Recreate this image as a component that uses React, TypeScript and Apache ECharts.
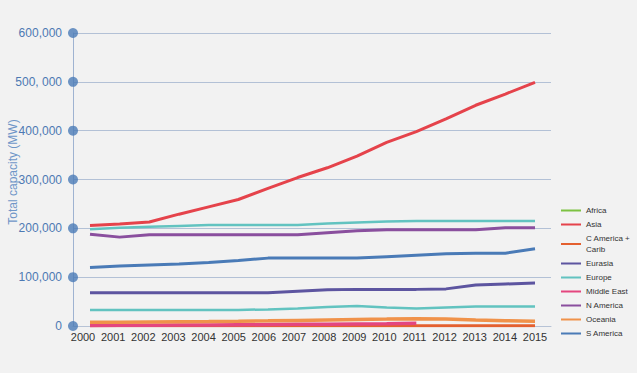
import React, { useEffect, useRef } from "react";
import * as echarts from "echarts";

const years = [2000, 2001, 2002, 2003, 2004, 2005, 2006, 2007, 2008, 2009, 2010, 2011, 2012, 2013, 2014, 2015];
const yTicks = [0, 100000, 200000, 300000, 400000, 500000, 600000];
const yTickLabels = ["0", "100,000", "200,000", "300,000", "400,000", "500, 000", "600,000"];

const africa = [33000, 33000, 33000, 33000, 33000, 33000, 34000, 36000, 39000, 41000, 38000, 36000, 38000, 40000, 40000, 40000];
const asia = [206000, 209000, 213000, 229000, 244000, 259000, 282000, 304000, 324000, 348000, 376000, 398000, 424000, 452000, 475000, 499000];
const cAmerica = [500, 500, 500, 500, 500, 500, 500, 500, 500, 500, 500, 500, 500, 500, 500, 500];
const eurasia = [68000, 68000, 68000, 68000, 68000, 68000, 68000, 71000, 74000, 75000, 75000, 75000, 76000, 84000, 86000, 88000];
const europe = [198000, 201000, 203000, 205000, 207000, 207000, 207000, 207000, 210000, 212000, 214000, 215000, 215000, 215000, 215000, 215000];
const middleEast = [1000, 1300, 1600, 1900, 2200, 2600, 3000, 3400, 3800, 4300, 4800, 5600, null, null, null, null];
const nAmerica = [188000, 182000, 187000, 187000, 187000, 187000, 187000, 187000, 191000, 195000, 197000, 197000, 197000, 197000, 201000, 201000];
const oceania = [7500, 7800, 8200, 8600, 9000, 9600, 10500, 11500, 12500, 13500, 14200, 15000, 14500, 12500, 11000, 9600];
const sAmerica = [120000, 123000, 125000, 127000, 130000, 134000, 139000, 139000, 139000, 139000, 142000, 145000, 148000, 149000, 149000, 158000];

const seriesDefs = [
  { name: "Africa", data: africa, color: "#62c3c0", legendColor: "#7dc242", width: 2.5 },
  { name: "Asia", data: asia, color: "#e5434b", legendColor: "#e5434b", width: 3 },
  { name: "C America + Carib", data: cAmerica, color: "#e4602f", legendColor: "#e4602f", width: 3 },
  { name: "Eurasia", data: eurasia, color: "#5d55a0", legendColor: "#5d55a0", width: 3 },
  { name: "Europe", data: europe, color: "#62c3c0", legendColor: "#62c3c0", width: 2.5 },
  { name: "Middle East", data: middleEast, color: "#e4467f", legendColor: "#e4467f", width: 3.5 },
  { name: "N America", data: nAmerica, color: "#8a4f9e", legendColor: "#8a4f9e", width: 3 },
  { name: "Oceania", data: oceania, color: "#f0924a", legendColor: "#f0924a", width: 3.5 },
  { name: "S America", data: sAmerica, color: "#4a7bb7", legendColor: "#4a7bb7", width: 3 },
];

const FONT = "'Liberation Sans', Arial, sans-serif";
const X_MIN = 1999.427;
const X_MAX = 2015.539;

export default function App() {
  const ref = useRef<HTMLDivElement>(null);
  useEffect(() => {
    if (!ref.current) return;
    const chart = echarts.init(ref.current, undefined, { renderer: "svg" });
    const lineSeries = seriesDefs.map((s) => ({
      type: "line",
      name: s.name,
      xAxisIndex: 0,
      symbol: "none",
      showSymbol: false,
      connectNulls: false,
      color: s.color,
      lineStyle: { width: s.width, color: s.color },
      data: years.map((y, i) => [y, s.data[i]]),
    }));
    chart.setOption({
      animation: false,
      backgroundColor: "#f2f2f2",
      textStyle: { fontFamily: FONT },
      grid: { left: 73, right: 86, top: 33, bottom: 47, containLabel: false },
      xAxis: [
        {
          type: "value",
          min: X_MIN,
          max: X_MAX,
          axisLine: { show: true, lineStyle: { color: "#b7c3d6", width: 1 } },
          axisTick: { show: false },
          axisLabel: { show: false },
          splitLine: { show: false },
        },
        {
          type: "value",
          position: "bottom",
          min: 1999.668,
          max: 2015.531,
          axisLine: { show: false },
          axisTick: { show: false },
          splitLine: { show: false },
          axisLabel: {
            customValues: years,
            color: "#333333",
            fontSize: 11,
            fontFamily: FONT,
            margin: 5,
            formatter: (v: number) => String(Math.round(v)),
          },
        },
      ],
      yAxis: {
        type: "value",
        min: 0,
        max: 600000,
        interval: 100000,
        axisLine: { show: true, lineStyle: { color: "#9fb3d1", width: 1 } },
        axisTick: { show: false },
        axisLabel: {
          color: "#4d79b3",
          fontSize: 12,
          fontFamily: FONT,
          margin: 11,
          formatter: (v: number) => yTickLabels[Math.round(v / 100000)],
        },
        splitLine: { show: true, lineStyle: { color: "#b3c1d6", width: 1 } },
      },
      legend: {
        orient: "vertical",
        left: 561,
        top: 205,
        padding: 0,
        itemWidth: 20,
        itemHeight: 2,
        itemGap: 3,
        icon: "rect",
        textStyle: { fontSize: 8, lineHeight: 11, color: "#333333", fontFamily: FONT },
        formatter: (name: string) => (name === "C America + Carib" ? "C America +\nCarib" : name),
        data: seriesDefs.map((s) => ({
          name: s.name,
          icon: "rect",
          itemStyle: { color: s.legendColor },
        })),
      },
      graphic: [
        {
          type: "text",
          x: 13,
          y: 172,
          rotation: Math.PI / 2,
          style: {
            text: "Total capacity (MW)",
            fill: "#6f96c8",
            font: `12px ${FONT}`,
            align: "center",
            verticalAlign: "middle",
          },
        },
      ],
      series: [
        ...lineSeries,
        {
          type: "scatter",
          name: "ticks",
          xAxisIndex: 0,
          symbol: "circle",
          symbolSize: 10,
          clip: false,
          z: 10,
          itemStyle: { color: "#4a7bb7" },
          data: yTicks.map((v) => [X_MIN, v]),
        },
      ],
    });
    return () => chart.dispose();
  }, []);
  return (
    <div
      ref={ref}
      style={{ position: "fixed", left: 0, top: 0, width: 637, height: 373, background: "#f2f2f2" }}
    />
  );
}
